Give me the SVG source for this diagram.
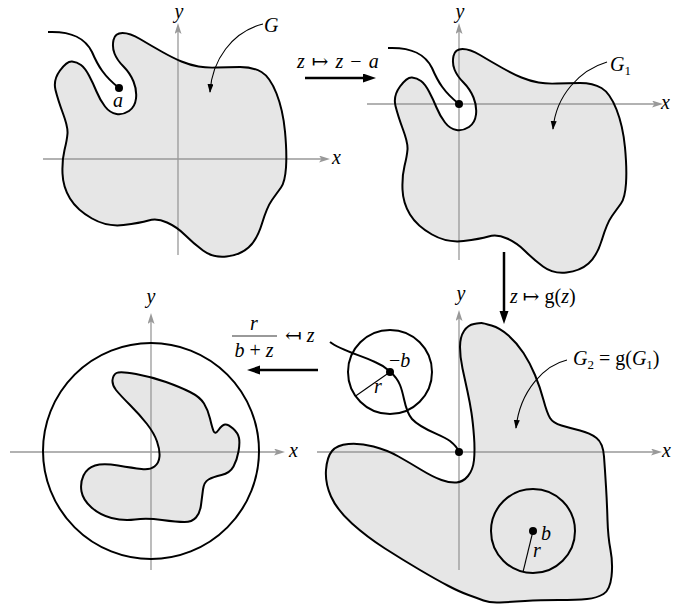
<svg xmlns="http://www.w3.org/2000/svg" width="673" height="613" viewBox="0 0 673 613" font-family="'Times New Roman', 'Liberation Serif', Times, 'DejaVu Serif', serif">
<style>
.fill{fill:#e6e6e6;stroke:none}
.out{fill:none;stroke:#000;stroke-width:2;stroke-linejoin:round}
.axis{stroke:#999;stroke-width:1.3;fill:none}
.thin{stroke:#000;stroke-width:1.1;fill:none}
.heavy{stroke:#000;stroke-width:2.5;fill:none}
.ring{fill:none;stroke:#000;stroke-width:2}
.dot{fill:#000}
.t{font-family:'Times New Roman','Liberation Serif',Times,'DejaVu Serif',serif;font-size:20px;fill:#000}
.it{font-style:italic}
.sub{font-size:13px;font-style:normal}
</style>
<defs>
<marker id="ax" markerUnits="userSpaceOnUse" markerWidth="12" markerHeight="8" refX="3" refY="3.5" orient="auto">
<path d="M0,0 L11,3.5 L0,7 L2.5,3.5 Z" fill="#999"/>
</marker>
<marker id="hv" markerUnits="userSpaceOnUse" markerWidth="14" markerHeight="10" refX="4" refY="4.5" orient="auto">
<path d="M0,0 L13,4.5 L0,9 Z" fill="#000"/>
</marker>
<marker id="tn" markerUnits="userSpaceOnUse" markerWidth="10" markerHeight="7" refX="8" refY="3" orient="auto">
<path d="M0,0 L9,3 L0,6 Z" fill="#000"/>
</marker>
<path id="shapeG" d="M72,61.5 Q67,61 60,70.5 Q53,80 55.5,90 Q58,100 63,113.5 Q68,127 67.5,133.5 Q67,140 64.5,150 Q62,160 62.5,173.5 Q63,187 70,198.5 Q77,210 92,218.5 Q107,227 123.5,225 Q140,223 148.5,220.5 Q157,218 167,222.5 Q177,227 185,235 Q193,243 203,250.5 Q213,258 226.5,256.5 Q240,255 248.5,247.5 Q257,240 262,223.5 Q267,207 272,200 Q277,193 281,187.5 Q285,182 286,167.5 Q287,153 285,131.5 Q283,110 276.5,93.5 Q270,77 261.5,72 Q253,67 240,67 Q227,67 217,67.5 Q207,68 198.5,66.5 Q190,65 181.5,61.5 Q173,58 161.5,51.5 Q150,45 140,39 Q130,33 122.5,33 Q115,33 113.5,40 Q112,47 114.5,53.5 Q117,60 123.5,66.5 Q130,73 133.5,81.5 Q137,90 136,98.5 Q135,107 129,111 Q123,115 116.5,114 Q110,113 105,106.5 Q100,100 96.5,91.5 Q93,83 89,75.5 Q85,68 81,65 Q77,62 72,61.5 Z"/>
<path id="tailG" d="M48,32 C72,31 85,38 92,52 C98,66 104,76 119,88"/>
<path id="shapeG2" d="M481.5,323 Q480,323 474,324 Q468,325 464,331 Q460,337 460,347 Q460,357 462.5,368.5 Q465,380 467.5,391.5 Q470,403 471.5,413 Q473,423 474,436.5 Q475,450 474,460 Q473,470 468,476 Q463,482 456.5,482.5 Q450,483 441.5,480 Q433,477 421.5,470 Q410,463 398.5,456.5 Q387,450 373.5,446.5 Q360,443 348.5,444 Q337,445 332,451 Q327,457 326,470 Q325,483 331,496.5 Q337,510 352,523.5 Q367,537 385,548.5 Q403,560 420,570 Q437,580 448.5,586 Q460,592 468.5,595 Q477,598 483.5,600.5 Q490,603 500,602.5 Q510,602 525,601 Q540,600 558.5,600 Q577,600 587,599 Q597,598 603.5,594 Q610,590 611.5,576.5 Q613,563 610.5,550 Q608,537 607.5,520 Q607,503 606,486.5 Q605,470 604,456.5 Q603,443 596.5,438 Q590,433 580,430.5 Q570,428 561.5,425.5 Q553,423 550,418 Q547,413 543.5,400 Q540,387 535,375 Q530,363 523.5,353 Q517,343 508.5,335.5 Q500,328 491.5,325.5 Q483,323 481.5,323 Z"/>
<path id="shapeD" d="M112.5,380 Q113,375 116.5,373 Q120,371 136,374 Q152,377 166,382 Q180,387 190,392 Q200,397 204,403.5 Q208,410 210,418.5 Q212,427 213.5,431 Q215,435 218.5,430 Q222,425 225,424.5 Q228,424 233,428.5 Q238,433 239,438 Q240,443 238.5,451.5 Q237,460 233.5,466.5 Q230,473 221.5,475 Q213,477 208.5,479.5 Q204,482 203,489.5 Q202,497 201,505 Q200,513 196,517.5 Q192,522 184.5,522 Q177,522 162,520 Q147,518 135,519.5 Q123,521 111.5,518 Q100,515 91.5,507.5 Q83,500 81.5,491.5 Q80,483 83.5,475.5 Q87,468 95,465.5 Q103,463 118,465.5 Q133,468 141.5,469 Q150,470 154.5,466.5 Q159,463 159.5,456.5 Q160,450 157,441.5 Q154,433 147,424 Q140,415 130,405 Q120,395 116,390 Q112,385 112.5,380 Z"/>
</defs>

<g id="panel-G">
<use href="#shapeG" class="fill"/>
<line class="axis" x1="43" y1="159" x2="322" y2="159" marker-end="url(#ax)"/>
<line class="axis" x1="178" y1="255" x2="178" y2="31" marker-end="url(#ax)"/>
<use href="#shapeG" class="out"/>
<use href="#tailG" class="out"/>
<circle class="dot" cx="119" cy="88" r="4"/>
<text class="t it" x="118" y="107" text-anchor="middle">a</text>
<text class="t it" x="264" y="32">G</text>
<path class="thin" d="M263,24 C232,32 212,60 210,92" marker-end="url(#tn)"/>
<text class="t it" x="179" y="18" text-anchor="middle">y</text>
<text class="t it" x="332" y="164">x</text>
</g>

<g id="panel-G1">
<use href="#shapeG" class="fill" transform="translate(340,16)"/>
<line class="axis" x1="367" y1="104" x2="655" y2="104" marker-end="url(#ax)"/>
<line class="axis" x1="459" y1="260" x2="459" y2="31" marker-end="url(#ax)"/>
<use href="#shapeG" class="out" transform="translate(340,16)"/>
<use href="#tailG" class="out" transform="translate(340,16)"/>
<circle class="dot" cx="459" cy="104" r="4"/>
<text class="t it" x="610" y="71">G<tspan class="sub" dy="4">1</tspan></text>
<path class="thin" d="M607,62 C580,70 556,95 553,129" marker-end="url(#tn)"/>
<text class="t it" x="460" y="18" text-anchor="middle">y</text>
<text class="t it" x="661" y="109">x</text>
</g>

<g id="panel-G2">
<use href="#shapeG2" class="fill"/>
<line class="axis" x1="317" y1="452" x2="654" y2="452" marker-end="url(#ax)"/>
<line class="axis" x1="459" y1="570" x2="459" y2="318" marker-end="url(#ax)"/>
<use href="#shapeG2" class="out"/>
<path class="out" d="M330,342 C340,350 360,355 375,362 C385,366 396,375 400,385 C405,397 404,410 412,419 C422,430 440,434 450,441 C455,445 458,449 459,452"/>
<circle class="dot" cx="459" cy="452" r="4"/>
<circle class="ring" cx="390" cy="372" r="42"/>
<circle class="dot" cx="390" cy="372" r="4"/>
<line class="thin" x1="390" y1="372" x2="355.6" y2="396"/>
<text class="t" x="389" y="367">−<tspan class="it">b</tspan></text>
<text class="t it" x="378" y="393" text-anchor="middle">r</text>
<circle class="ring" cx="533" cy="531" r="42"/>
<circle class="dot" cx="533" cy="531" r="4"/>
<line class="thin" x1="533" y1="531" x2="523" y2="572"/>
<text class="t it" x="541" y="540">b</text>
<text class="t it" x="537" y="557" text-anchor="middle">r</text>
<text class="t" x="573" y="365"><tspan class="it">G</tspan><tspan class="sub" dy="4">2</tspan><tspan dy="-4"> = g(</tspan><tspan class="it">G</tspan><tspan class="sub" dy="4">1</tspan><tspan dy="-4">)</tspan></text>
<path class="thin" d="M567,360 C545,365 520,390 516,428" marker-end="url(#tn)"/>
<text class="t it" x="461" y="300" text-anchor="middle">y</text>
<text class="t it" x="662" y="457">x</text>
</g>

<g id="panel-disk">
<use href="#shapeD" class="fill"/>
<line class="axis" x1="10" y1="452" x2="277" y2="452" marker-end="url(#ax)"/>
<line class="axis" x1="151" y1="570" x2="151" y2="321" marker-end="url(#ax)"/>
<circle class="ring" cx="151" cy="451" r="108"/>
<use href="#shapeD" class="out"/>
<text class="t it" x="151" y="303" text-anchor="middle">y</text>
<text class="t it" x="289" y="457">x</text>
</g>

<g id="connectors">
<line class="heavy" x1="305" y1="78" x2="367" y2="78" marker-end="url(#hv)"/>
<line class="heavy" x1="504" y1="252" x2="504" y2="315" marker-end="url(#hv)"/>
<line class="heavy" x1="318" y1="370" x2="256" y2="370" marker-end="url(#hv)"/>
</g>

<g id="map-labels">
<text class="t" x="297" y="68" word-spacing="2"><tspan class="it">z</tspan> ↦ <tspan class="it">z</tspan> − <tspan class="it">a</tspan></text>
<text class="t" x="510" y="303"><tspan class="it">z</tspan> ↦ g(<tspan class="it">z</tspan>)</text>
<text class="t it" x="254" y="330" text-anchor="middle">r</text>
<line x1="232" y1="336" x2="277" y2="336" stroke="#777" stroke-width="1.3"/>
<text class="t" x="254" y="357" text-anchor="middle"><tspan class="it">b</tspan> + <tspan class="it">z</tspan></text>
<text class="t" x="285" y="342">↤ <tspan class="it">z</tspan></text>
</g>
</svg>
